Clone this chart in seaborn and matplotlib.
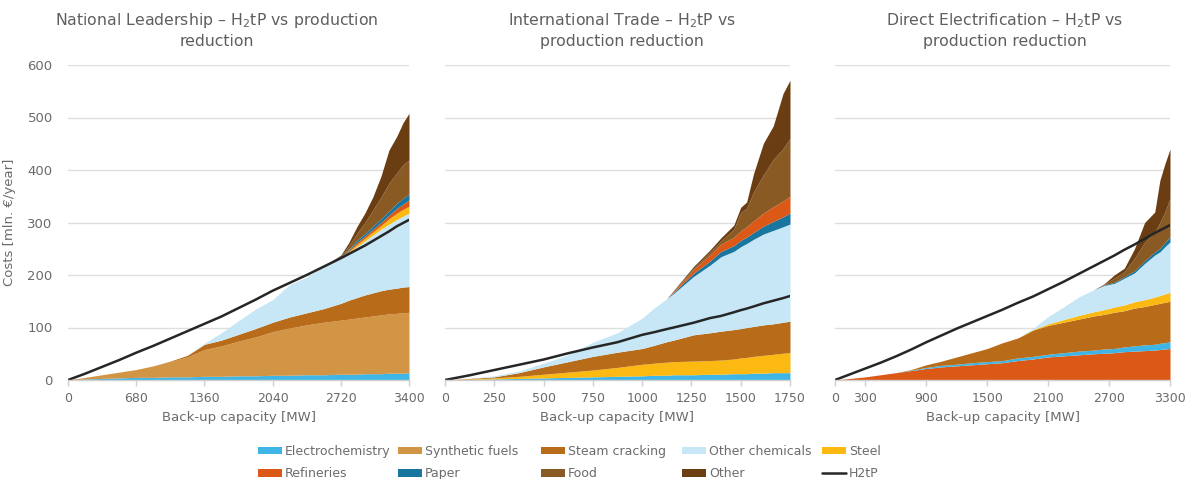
import matplotlib
matplotlib.use("Agg")
import matplotlib.pyplot as plt
import seaborn as sns
from matplotlib.patches import Patch
from matplotlib.lines import Line2D

# ---------------- National Leadership ----------------
nl_x = [0, 170, 340, 510, 680, 850, 1020, 1190, 1360, 1530, 1700, 1870, 2040,
        2210, 2380, 2550, 2720, 2800, 2880, 2960, 3040, 3120, 3200, 3280, 3340, 3400]
nl_electro = [0, 2, 3, 4, 5, 5, 6, 6, 7, 7, 8, 8, 9, 9, 10, 10, 11, 11, 11, 12, 12, 12, 13, 13, 13, 14]
nl_synth = [0, 3, 7, 11, 15, 22, 29, 38, 51, 58, 66, 74, 83, 90, 95, 100, 103, 105, 107, 108, 110, 112, 113, 114, 115, 115]
nl_steam = [0, 0, 0, 0, 0, 0, 1, 3, 10, 11, 13, 16, 18, 21, 23, 26, 32, 36, 39, 42, 44, 46, 47, 48, 49, 49]
nl_otherchem = [0, 0, 0, 0, 0, 0, 0, 0, 2, 14, 26, 37, 43, 62, 68, 81, 86, 91, 97, 103, 110, 117, 124, 131, 135, 140]
nl_steel = [0, 0, 0, 0, 0, 0, 0, 0, 0, 0, 0, 0, 0, 0, 0, 0, 1, 2, 4, 5, 6, 7, 10, 12, 13, 13]
nl_refineries = [0, 0, 0, 0, 0, 0, 0, 0, 0, 0, 0, 0, 0, 0, 0, 0, 1, 2, 4, 4, 5, 6, 7, 9, 10, 12]
nl_paper = [0, 0, 0, 0, 0, 0, 0, 0, 0, 0, 0, 0, 0, 0, 0, 0, 1, 2, 4, 5, 6, 7, 8, 10, 11, 11]
nl_food = [0, 0, 0, 0, 0, 0, 0, 0, 0, 0, 0, 0, 0, 0, 0, 0, 1, 7, 13, 21, 31, 41, 53, 58, 64, 65]
nl_other = [0, 0, 0, 0, 0, 0, 0, 0, 0, 0, 0, 0, 0, 0, 0, 0, 2, 6, 13, 18, 25, 40, 63, 70, 80, 89]
nl_h2tp = [0, 12, 25, 38, 52, 65, 79, 93, 107, 121, 137, 153, 170, 185, 200, 216,
           232, 240, 248, 256, 265, 274, 283, 293, 299, 305]
nl_ticks = [0, 680, 1360, 2040, 2720, 3400]

# ---------------- International Trade ----------------
it_x = [0, 125, 250, 375, 500, 625, 750, 875, 1000, 1060, 1125, 1160, 1260, 1345,
        1400, 1465, 1500, 1530, 1565, 1615, 1665, 1715, 1750]
it_electro = [0, 1, 2, 3, 4, 5, 6, 7, 8, 9, 9, 10, 10, 11, 11, 12, 12, 12, 13, 13, 14, 14, 14]
it_steel = [0, 1, 2, 4, 7, 10, 13, 17, 22, 23, 25, 25, 26, 26, 27, 28, 30, 31, 32, 34, 35, 37, 38]
it_steam = [0, 1, 2, 7, 14, 20, 26, 29, 30, 34, 39, 41, 50, 53, 55, 56, 56, 57, 57, 58, 58, 59, 60]
it_otherchem = [0, 0, 2, 3, 7, 13, 27, 37, 58, 71, 82, 89, 111, 129, 142, 149, 156, 160, 166, 173, 178, 182, 185]
it_paper = [0, 0, 0, 0, 0, 0, 0, 0, 0, 0, 0, 2, 6, 8, 10, 11, 12, 12, 13, 15, 17, 19, 21]
it_refineries = [0, 0, 0, 0, 0, 0, 0, 0, 0, 0, 0, 2, 7, 12, 14, 16, 18, 20, 22, 25, 28, 30, 32]
it_food = [0, 0, 0, 0, 0, 0, 0, 0, 0, 0, 0, 1, 3, 5, 6, 15, 35, 35, 55, 73, 90, 100, 110]
it_other = [0, 0, 0, 0, 0, 0, 0, 0, 0, 0, 0, 1, 3, 4, 6, 8, 10, 12, 35, 60, 64, 105, 111]
it_h2tp = [0, 9, 19, 29, 39, 51, 62, 72, 86, 91, 97, 100, 109, 118, 122, 129, 133,
           136, 140, 146, 151, 156, 160]
it_ticks = [0, 250, 500, 750, 1000, 1250, 1500, 1750]

# ---------------- Direct Electrification ----------------
de_x = [0, 150, 300, 450, 600, 750, 900, 1050, 1200, 1350, 1500, 1650, 1800, 1950,
        2100, 2250, 2400, 2550, 2650, 2750, 2850, 2950, 3050, 3150, 3200, 3250, 3300]
de_refineries = [0, 3, 6, 10, 14, 18, 22, 25, 27, 29, 31, 33, 37, 40, 44, 46, 48, 50, 51, 52, 54, 55, 56, 57, 58, 59, 60]
de_electro = [0, 0, 0, 0, 0, 1, 2, 3, 3, 4, 4, 4, 5, 5, 5, 6, 7, 7, 8, 8, 9, 10, 11, 11, 12, 12, 13]
de_steam = [0, 0, 0, 0, 0, 1, 5, 8, 14, 19, 25, 34, 38, 50, 55, 58, 61, 65, 66, 69, 69, 72, 73, 76, 76, 77, 77]
de_steel = [0, 0, 0, 0, 0, 0, 0, 0, 0, 0, 0, 0, 0, 1, 3, 5, 7, 8, 9, 10, 11, 12, 13, 14, 15, 16, 17]
de_otherchem = [0, 0, 0, 0, 0, 0, 0, 0, 0, 0, 0, 0, 0, 2, 14, 24, 35, 42, 46, 45, 51, 55, 69, 80, 83, 90, 96]
de_paper = [0, 0, 0, 0, 0, 0, 0, 0, 0, 0, 0, 0, 0, 0, 0, 0, 0, 0, 1, 2, 3, 4, 5, 6, 7, 8, 10]
de_food = [0, 0, 0, 0, 0, 0, 0, 0, 0, 0, 0, 0, 0, 0, 0, 0, 0, 0, 1, 8, 9, 24, 35, 38, 49, 58, 73]
de_other = [0, 0, 0, 0, 0, 0, 0, 0, 0, 0, 0, 0, 0, 0, 0, 0, 0, 0, 1, 6, 7, 18, 38, 38, 80, 92, 94]
de_h2tp = [0, 11, 22, 33, 45, 58, 72, 85, 98, 110, 122, 134, 147, 159, 173, 187, 202,
           217, 227, 237, 248, 258, 269, 280, 285, 290, 295]
de_ticks = [0, 300, 900, 1500, 2100, 2700, 3300]

sector_colors = {
    "Electrochemistry": "#3fb5e5",
    "Synthetic fuels": "#d29445",
    "Steam cracking": "#b86c19",
    "Other chemicals": "#c7e7f6",
    "Steel": "#fbb912",
    "Refineries": "#dc5816",
    "Paper": "#18769f",
    "Food": "#8a5a24",
    "Other": "#6a3e12",
}
line_color = "#262626"
text_color = "#6b6b6b"
grid_color = "#dedede"

panels = [
    dict(title="National Leadership – H$_2$tP vs production\nreduction", title_x=217,
         x=nl_x, h2tp=nl_h2tp, ticks=nl_ticks, left=68, right=409, ylabels=True,
         layers=[("Electrochemistry", nl_electro), ("Synthetic fuels", nl_synth),
                 ("Steam cracking", nl_steam), ("Other chemicals", nl_otherchem),
                 ("Steel", nl_steel), ("Refineries", nl_refineries),
                 ("Paper", nl_paper), ("Food", nl_food), ("Other", nl_other)]),
    dict(title="International Trade – H$_2$tP vs\nproduction reduction", title_x=622,
         x=it_x, h2tp=it_h2tp, ticks=it_ticks, left=445, right=790, ylabels=False,
         layers=[("Electrochemistry", it_electro), ("Steel", it_steel),
                 ("Steam cracking", it_steam), ("Other chemicals", it_otherchem),
                 ("Paper", it_paper), ("Refineries", it_refineries),
                 ("Food", it_food), ("Other", it_other)]),
    dict(title="Direct Electrification – H$_2$tP vs\nproduction reduction", title_x=1005,
         x=de_x, h2tp=de_h2tp, ticks=de_ticks, left=835, right=1170, ylabels=False,
         layers=[("Refineries", de_refineries), ("Electrochemistry", de_electro),
                 ("Steam cracking", de_steam), ("Steel", de_steel),
                 ("Other chemicals", de_otherchem), ("Paper", de_paper),
                 ("Food", de_food), ("Other", de_other)]),
]

sns.set_theme(style="white")
plt.rcParams["font.family"] = ["DejaVu Sans"]
plt.rcParams["mathtext.fontset"] = "dejavusans"

W, H = 1189, 479
fig = plt.figure(figsize=(W / 100, H / 100), dpi=100)
TOP, BOTTOM = 65, 380

for p in panels:
    ax = fig.add_axes([p["left"] / W, 1 - BOTTOM / H,
                       (p["right"] - p["left"]) / W, (BOTTOM - TOP) / H])
    names = [n for n, _ in p["layers"]]
    ax.stackplot(p["x"], *[v for _, v in p["layers"]],
                 colors=[sector_colors[n] for n in names], linewidth=0)
    sns.lineplot(x=p["x"], y=p["h2tp"], ax=ax, color=line_color, linewidth=1.8)

    ax.set_xlim(0, p["ticks"][-1])
    ax.set_ylim(0, 600)
    ax.set_xticks(p["ticks"])
    ax.set_yticks(range(0, 601, 100))
    ax.set_axisbelow(True)
    ax.yaxis.grid(True, color=grid_color, linewidth=1)
    ax.xaxis.grid(False)
    for side in ("left", "right", "top"):
        ax.spines[side].set_visible(False)
    ax.spines["bottom"].set_color("#d0d0d0")
    ax.spines["bottom"].set_linewidth(1)
    ax.tick_params(axis="x", bottom=True, length=4, width=1, color="#d0d0d0",
                   pad=5, labelsize=9, labelcolor=text_color)
    ax.tick_params(axis="y", length=0, pad=11, labelsize=9.5, labelcolor=text_color,
                   labelleft=p["ylabels"])
    ax.set_xlabel("Back-up capacity [MW]", fontsize=9.5, color=text_color, labelpad=4)
    if p["ylabels"]:
        ax.set_ylabel("Costs [mln. €/year]", fontsize=9.5, color=text_color, labelpad=8)
    fig.text(p["title_x"] / W, 1 - 30 / H, p["title"], ha="center", va="center",
             fontsize=11.3, color="#5f5f5f", linespacing=1.3)

# legend laid out in five fixed-width columns
legend_cols = [
    (258, ["Electrochemistry", "Refineries"]),
    (398, ["Synthetic fuels", "Paper"]),
    (541, ["Steam cracking", "Food"]),
    (682, ["Other chemicals", "Other"]),
    (822, ["Steel", "H2tP"]),
]
for xpos, labels in legend_cols:
    handles = []
    for lab in labels:
        if lab == "H2tP":
            handles.append(Line2D([], [], color=line_color, linewidth=1.8))
        else:
            handles.append(Patch(facecolor=sector_colors[lab], edgecolor="none"))
    fig.legend(handles=handles, labels=labels, loc="upper left",
               bbox_to_anchor=(xpos / W, 1 - 445 / H), frameon=False,
               borderpad=0, borderaxespad=0, handlelength=1.95, handleheight=0.55,
               handletextpad=0.2, labelspacing=0.75, fontsize=9,
               labelcolor=text_color)

fig.savefig("out.png", dpi=100)
